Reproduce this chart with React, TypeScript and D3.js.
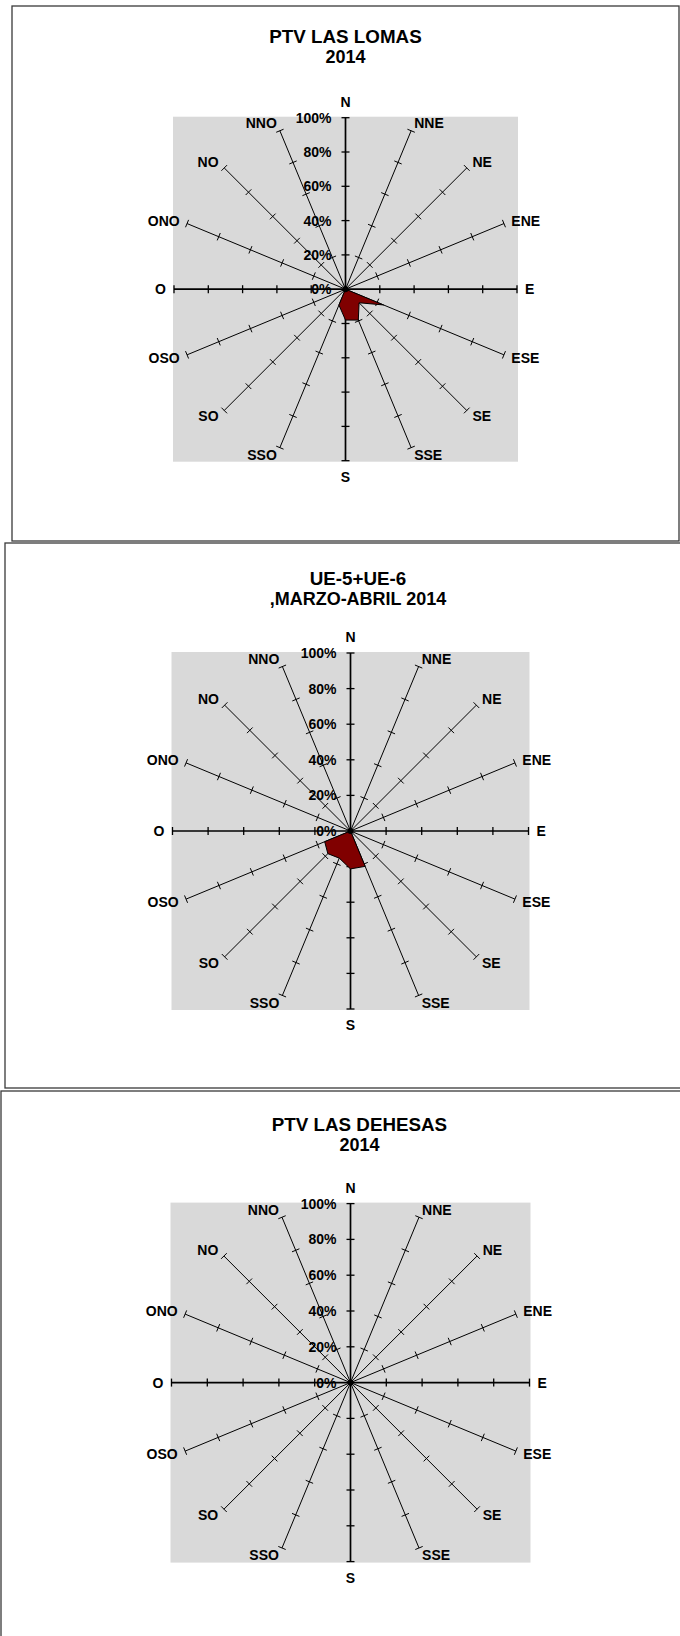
import React from "react";
import * as d3 from "d3";

const directions = ["N","NNE","NE","ENE","E","ESE","SE","SSE","S","SSO","SO","OSO","O","ONO","NO","NNO"];
const tickValues = [0, 0.2, 0.4, 0.6, 0.8, 1.0];
const tickLabels = ["0%", "20%", "40%", "60%", "80%", "100%"];

const lasLomas = [0, 0, 0, 0, 0, 0.24, 0.112, 0.195, 0.18, 0.10, 0, 0, 0, 0, 0, 0];
const ue56 = [0, 0, 0, 0, 0, 0, 0, 0.215, 0.213, 0.165, 0.18, 0.157, 0, 0, 0, 0];
const lasDehesas = [0, 0, 0, 0, 0, 0, 0, 0, 0, 0, 0, 0, 0, 0, 0, 0];

const titles1 = ["PTV LAS LOMAS", "UE-5+UE-6", "PTV LAS DEHESAS"];
const titles2 = ["2014", ",MARZO-ABRIL 2014", "2014"];

const FONT = "'Liberation Sans', Arial, Helvetica, sans-serif";

type PanelCfg = {
  box: [number, number, number, number];
  cx: number; cy: number; R: number;
  tx: number; ty1: number; ty2: number;
  values: number[];
  title1: string; title2: string;
};

const panels: PanelCfg[] = [
  { box: [12, 6, 679, 541], cx: 345.5, cy: 289.2, R: 171.5, tx: 345.5, ty1: 42.5, ty2: 62.5, values: lasLomas, title1: titles1[0], title2: titles2[0] },
  { box: [5, 543, 690, 1088], cx: 350.5, cy: 831, R: 178, tx: 358, ty1: 585, ty2: 604.5, values: ue56, title1: titles1[1], title2: titles2[1] },
  { box: [1, 1091, 690, 1645], cx: 350.5, cy: 1382.6, R: 179, tx: 359.5, ty1: 1130.5, ty2: 1151, values: lasDehesas, title1: titles1[2], title2: titles2[2] },
];

function Panel({ p }: { p: PanelCfg }) {
  const { cx, cy, R } = p;
  const r = d3.scaleLinear().domain([0, 1]).range([0, R]);
  const ang = d3.scaleLinear().domain([0, directions.length]).range([0, 2 * Math.PI]);
  const line = d3.lineRadial<number>()
    .angle((_, i) => ang(i))
    .radius((v) => r(v))
    .curve(d3.curveLinearClosed);
  const path = line(p.values) || "";
  const hasData = p.values.some((v) => v > 0);

  return (
    <g>
      <rect x={p.box[0]} y={p.box[1]} width={p.box[2] - p.box[0]} height={p.box[3] - p.box[1]}
        fill="#fff" stroke="#3a3a3a" strokeWidth={1.3} />
      <text x={p.tx} y={p.ty1} textAnchor="middle" fontFamily={FONT} fontWeight="bold" fontSize={18.8} fill="#000">{p.title1}</text>
      <text x={p.tx} y={p.ty2} textAnchor="middle" fontFamily={FONT} fontWeight="bold" fontSize={18} fill="#000">{p.title2}</text>
      <rect x={cx - R - 1} y={cy - R - 1} width={2 * R + 2} height={2 * R + 2} fill="#d9d9d9" />
      {directions.map((d, i) => {
        const a = ang(i);
        const s = Math.sin(a), c = Math.cos(a);
        const cardinal = i % 4 === 0;
        const ex = cx + r(1) * s, ey = cy - r(1) * c;
        return (
          <g key={d}>
            <line x1={cx} y1={cy} x2={ex} y2={ey} stroke="#000" strokeWidth={cardinal ? 1.7 : 1} />
            {tickValues.slice(1).map((t) => {
              const px = cx + r(t) * s, py = cy - r(t) * c;
              const L = 4;
              return <line key={t} x1={px - L * c} y1={py - L * s} x2={px + L * c} y2={py + L * s}
                stroke="#000" strokeWidth={cardinal ? 1.3 : 1} />;
            })}
          </g>
        );
      })}
      {hasData && <path d={path} transform={`translate(${cx},${cy})`} fill="#800000" stroke="#000" strokeWidth={1} strokeLinejoin="miter" />}
      <circle cx={cx} cy={cy} r={3} fill="#000" />
      {tickValues.map((t, k) => (
        <text key={t} x={cx - 14} y={cy - r(t)} textAnchor="end" dominantBaseline="central"
          fontFamily={FONT} fontWeight="bold" fontSize={14} fill="#000">{tickLabels[k]}</text>
      ))}
      {directions.map((d, i) => {
        const a = ang(i);
        const s = Math.sin(a), c = Math.cos(a);
        const isNS = Math.abs(s) < 0.01;
        const off = isNS ? 16 : 8;
        const x = cx + (r(1) + off) * s;
        const y = cy - (r(1) + off) * c;
        const anchor = s > 0.01 ? "start" : s < -0.01 ? "end" : "middle";
        return (
          <text key={d} x={x} y={y} textAnchor={anchor} dominantBaseline="central"
            fontFamily={FONT} fontWeight="bold" fontSize={14} fill="#000">{d}</text>
        );
      })}
    </g>
  );
}

export default function App() {
  return (
    <svg width={680} height={1636} style={{ position: "absolute", left: 0, top: 0, background: "#fff" }}>
      {panels.map((p, i) => <Panel key={i} p={p} />)}
    </svg>
  );
}
